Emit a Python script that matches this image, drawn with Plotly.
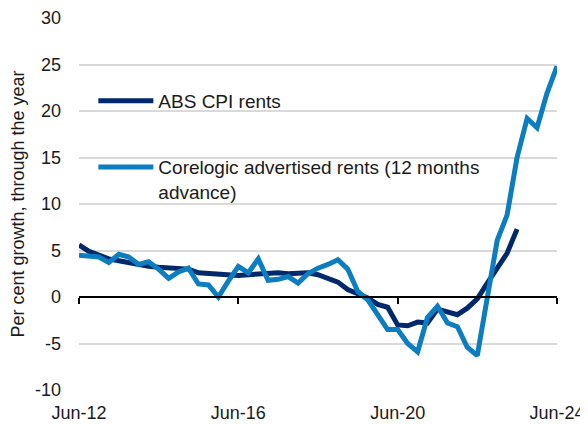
import plotly.graph_objects as go
import pandas as pd

abs_start = "2012-06-01"
core_start = "2012-06-01"

abs_cpi_rents = [5.6, 4.9, 4.5, 4.1, 3.9, 3.7, 3.4, 3.3, 3.2, 3.1, 3.1, 3.0,
                 2.6, 2.5, 2.4, 2.3, 2.3, 2.4, 2.5, 2.6, 2.6, 2.5, 2.6, 2.6,
                 2.4, 2.0, 1.6, 0.8, 0.4, -0.1, -0.8, -1.1, -3.0, -3.1, -2.7, -2.8,
                 -1.3, -1.6, -1.9, -1.2, -0.2, 1.5, 3.0, 4.7, 7.3]

corelogic_rents = [4.5, 4.4, 4.3, 3.7, 4.6, 4.3, 3.5, 3.8, 3.0, 2.0, 2.7, 3.1,
                   1.4, 1.3, 0.0, 1.7, 3.3, 2.6, 4.1, 1.8, 1.9, 2.2, 1.5, 2.5,
                   3.1, 3.5, 4.0, 3.0, 0.6, -0.3, -2.0, -3.5, -3.5, -5.0, -5.9, -2.2,
                   -1.0, -2.8, -3.2, -5.4, -6.3, 0.0, 6.1, 8.8, 15.0, 19.2, 18.2, 21.9, 24.8]

tick_dates = ["2012-06-01", "2016-06-01", "2020-06-01", "2024-06-01"]
tick_labels = ["Jun-12", "Jun-16", "Jun-20", "Jun-24"]
y_ticks = [-10, -5, 0, 5, 10, 15, 20, 25, 30]
y_labels = ["-10", "-5", "0", "5", "10", "15", "20", "25", "30"]

abs_dates = pd.date_range(abs_start, periods=len(abs_cpi_rents), freq="3MS")
core_dates = pd.date_range(core_start, periods=len(corelogic_rents), freq="3MS")

NAVY = "#00296B"
BLUE = "#0B7DC0"
FONT = "Liberation Sans, Arial, sans-serif"

fig = go.Figure()
fig.add_trace(go.Scatter(x=abs_dates, y=abs_cpi_rents, mode="lines",
                         name="ABS CPI rents", line=dict(color=NAVY, width=5),
                         legend="legend"))
fig.add_trace(go.Scatter(x=core_dates, y=corelogic_rents, mode="lines",
                         name="Corelogic advertised rents (12 months<br>advance)",
                         line=dict(color=BLUE, width=5), legend="legend2"))
# invisible trace to carry the tick axis at y = 0
fig.add_trace(go.Scatter(x=[tick_dates[0]], y=[0], xaxis="x2", mode="markers",
                         marker=dict(opacity=0), showlegend=False, hoverinfo="skip"))

xr = ["2012-06-01", "2024-06-01"]
# page body has an 8px default margin, so the figure is 8px smaller than the window
fig.update_layout(
    width=580, height=417,
    margin=dict(l=71, r=31, t=10, b=35),
    paper_bgcolor="white", plot_bgcolor="white",
    font=dict(family=FONT, size=18, color="#1a1a1a"),
    xaxis=dict(type="date", range=xr, tickvals=tick_dates, ticktext=tick_labels,
               showgrid=False, zeroline=False, showline=False, ticks="",
               automargin=False, ticklabelstandoff=10, tickfont=dict(size=18)),
    xaxis2=dict(type="date", range=xr, overlaying="x", anchor="free", position=0.25,
                tickvals=tick_dates, showticklabels=False, ticks="outside",
                ticklen=6, tickwidth=1.5, tickcolor="black", showline=True,
                linecolor="black", linewidth=1.5, showgrid=False, zeroline=False,
                automargin=False),
    yaxis=dict(range=[-10, 30], tickvals=y_ticks, ticktext=y_labels,
               showgrid=True, gridcolor="#D9D9D9", gridwidth=1.5, zeroline=False,
               ticks="", ticklabelstandoff=17, automargin=False,
               tickfont=dict(size=18),
               title=dict(text="Per cent growth, through the year", standoff=8,
                          font=dict(size=18))),
    legend=dict(x=0.030, y=0.777, xanchor="left", yanchor="middle",
                bgcolor="rgba(0,0,0,0)", itemwidth=55, font=dict(size=19)),
    legend2=dict(x=0.030, y=0.65, xanchor="left", yanchor="top", valign="top",
                 bgcolor="rgba(0,0,0,0)", itemwidth=55, font=dict(size=19)),
    showlegend=True,
)

fig.write_html("out.html")
